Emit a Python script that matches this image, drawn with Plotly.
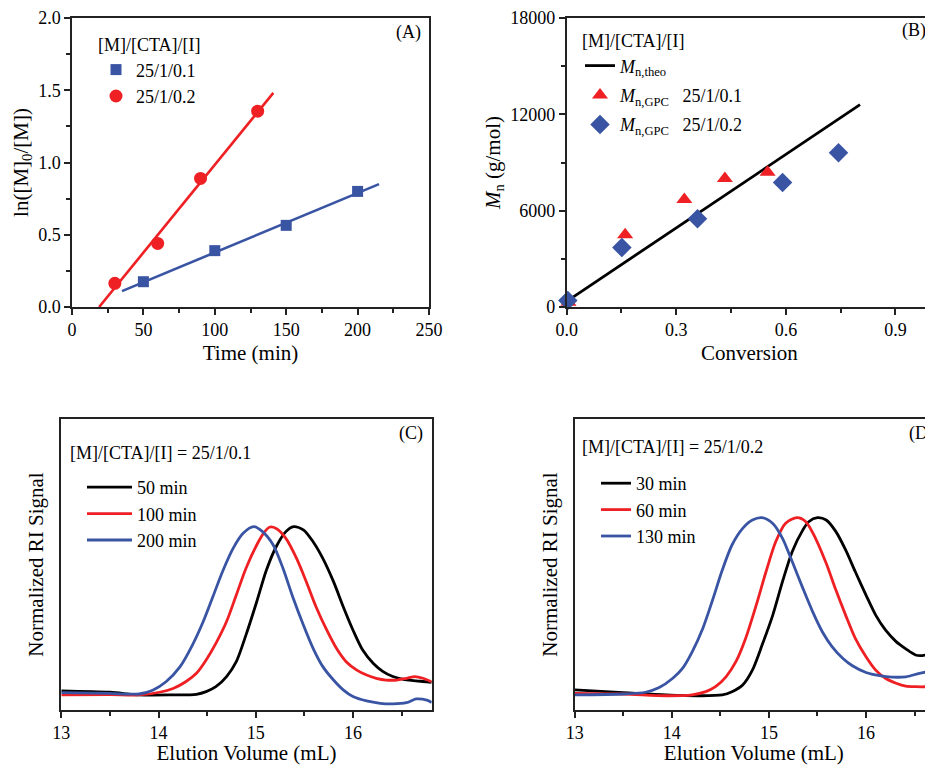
import plotly.graph_objects as go

SERIF = "Liberation Serif"
BLUE = "#3A54A4"
RED = "#EE2024"
AXC = "#222222"

# ---------------- Panel A: kinetics ----------------
time_01 = [50, 100, 150, 200]
ln_01 = [0.175, 0.39, 0.565, 0.80]
time_02 = [30, 60, 90, 130]
ln_02 = [0.164, 0.44, 0.89, 1.355]
fit01_x = [35, 215]
fit01_y = [0.11, 0.85]
fit02_x = [19, 141]
fit02_y = [0.0, 1.482]

# ---------------- Panel B: Mn vs conversion ----------------
conv_01 = [0.005, 0.16, 0.322, 0.433, 0.55]
mn_01 = [300, 4500, 6700, 8000, 8400]
conv_02 = [0.003, 0.151, 0.358, 0.591, 0.744]
mn_02 = [400, 3700, 5500, 7750, 9600]
theo_x = [0.003, 0.803]
theo_y = [400, 12600]

# ---------------- Panel C: GPC traces 25/1/0.1 ----------------
c50_x = [13.0, 13.5, 13.8, 14.15, 14.39, 14.49, 14.59, 14.70, 14.80, 14.90, 15.01, 15.11, 15.21,
         15.31, 15.39, 15.49, 15.59, 15.69, 15.80, 15.90, 16.00, 16.10, 16.21, 16.31, 16.41,
         16.52, 16.62, 16.76, 16.81]
c50_y = [0.066, 0.061, 0.052, 0.052, 0.054, 0.063, 0.080, 0.115, 0.166, 0.258, 0.372, 0.481, 0.561,
         0.613, 0.630, 0.619, 0.578, 0.521, 0.441, 0.355, 0.275, 0.206, 0.160, 0.132, 0.115,
         0.105, 0.101, 0.097, 0.095]
c100_x = [13.0, 13.5, 13.8, 14.01, 14.15, 14.28, 14.39, 14.49, 14.59, 14.70, 14.80, 14.90, 15.01,
          15.08, 15.14, 15.21, 15.31, 15.42, 15.52, 15.62, 15.73, 15.83, 15.93, 16.04, 16.14,
          16.24, 16.34, 16.45, 16.55, 16.64, 16.72, 16.81]
c100_y = [0.052, 0.053, 0.052, 0.061, 0.074, 0.097, 0.126, 0.172, 0.229, 0.304, 0.395, 0.487, 0.567,
          0.607, 0.628, 0.624, 0.590, 0.521, 0.441, 0.355, 0.275, 0.212, 0.166, 0.137, 0.120,
          0.109, 0.103, 0.103, 0.109, 0.115, 0.109, 0.097]
c200_x = [13.0, 13.5, 13.8, 13.94, 14.08, 14.22, 14.35, 14.46, 14.56, 14.66, 14.77, 14.87, 14.98,
          15.07, 15.18, 15.28, 15.38, 15.49, 15.59, 15.69, 15.80, 15.90, 16.00, 16.14, 16.28,
          16.41, 16.55, 16.65, 16.76, 16.81]
c200_y = [0.060, 0.057, 0.055, 0.068, 0.098, 0.148, 0.224, 0.304, 0.390, 0.477, 0.557, 0.607, 0.630,
          0.613, 0.567, 0.487, 0.389, 0.292, 0.212, 0.149, 0.103, 0.069, 0.046, 0.031, 0.023,
          0.021, 0.025, 0.038, 0.034, 0.026]

# ---------------- Panel D: GPC traces 25/1/0.2 ----------------
d30_x = [13.0, 13.5, 13.94, 14.28, 14.52, 14.62, 14.73, 14.83, 14.93, 15.04, 15.14, 15.24, 15.35,
         15.41, 15.50, 15.59, 15.69, 15.79, 15.89, 16.00, 16.10, 16.20, 16.31, 16.41, 16.51,
         16.58, 16.68]
d30_y = [0.069, 0.060, 0.052, 0.049, 0.052, 0.063, 0.086, 0.137, 0.223, 0.326, 0.441, 0.544, 0.619,
         0.647, 0.661, 0.653, 0.613, 0.550, 0.475, 0.395, 0.326, 0.275, 0.235, 0.210, 0.189,
         0.187, 0.195]
d60_x = [13.0, 13.5, 13.94, 14.21, 14.35, 14.45, 14.56, 14.66, 14.76, 14.87, 14.97, 15.07, 15.17,
         15.29, 15.38, 15.48, 15.59, 15.69, 15.79, 15.89, 16.00, 16.10, 16.20, 16.31, 16.41,
         16.51, 16.68]
d60_y = [0.057, 0.055, 0.049, 0.052, 0.063, 0.080, 0.115, 0.166, 0.246, 0.361, 0.475, 0.578, 0.641,
         0.661, 0.647, 0.590, 0.504, 0.412, 0.326, 0.246, 0.183, 0.137, 0.109, 0.092, 0.082,
         0.080, 0.080]
d130_x = [13.0, 13.5, 13.73, 13.87, 14.01, 14.11, 14.21, 14.32, 14.42, 14.52, 14.62, 14.73, 14.83,
          14.93, 15.04, 15.14, 15.24, 15.35, 15.45, 15.55, 15.65, 15.76, 15.86, 16.00, 16.14,
          16.27, 16.41, 16.55, 16.68]
d130_y = [0.052, 0.055, 0.061, 0.077, 0.109, 0.143, 0.200, 0.281, 0.378, 0.481, 0.567, 0.624, 0.653,
          0.661, 0.641, 0.590, 0.510, 0.418, 0.338, 0.269, 0.218, 0.178, 0.152, 0.129, 0.118,
          0.113, 0.114, 0.126, 0.134]

fig = go.Figure()

# Panel A
fig.add_trace(go.Scatter(x=fit01_x, y=fit01_y, mode="lines", line=dict(color=BLUE, width=2.6),
                         showlegend=False, xaxis="x", yaxis="y"))
fig.add_trace(go.Scatter(x=fit02_x, y=fit02_y, mode="lines", line=dict(color=RED, width=2.6),
                         showlegend=False, xaxis="x", yaxis="y"))
fig.add_trace(go.Scatter(x=time_01, y=ln_01, mode="markers", name="25/1/0.1",
                         marker=dict(symbol="square", size=11, color=BLUE),
                         xaxis="x", yaxis="y", legend="legend"))
fig.add_trace(go.Scatter(x=time_02, y=ln_02, mode="markers", name="25/1/0.2",
                         marker=dict(symbol="circle", size=13, color=RED),
                         xaxis="x", yaxis="y", legend="legend"))

# Panel B
fig.add_trace(go.Scatter(x=theo_x, y=theo_y, mode="lines", name="<i>M</i><sub>n,theo</sub>",
                         line=dict(color="black", width=2.8), xaxis="x2", yaxis="y2",
                         legend="legend2", legendgroup="b1"))
fig.add_trace(go.Scatter(x=conv_01, y=mn_01, mode="markers",
                         name="<i>M</i><sub>n,GPC</sub>&nbsp;&nbsp;&nbsp;25/1/0.1",
                         marker=dict(symbol="triangle-up", size=14, color=RED), cliponaxis=False,
                         xaxis="x2", yaxis="y2", legend="legend2", legendgroup="b2"))
fig.add_trace(go.Scatter(x=conv_02, y=mn_02, mode="markers",
                         name="<i>M</i><sub>n,GPC</sub>&nbsp;&nbsp;&nbsp;25/1/0.2",
                         marker=dict(symbol="diamond", size=15, color=BLUE), cliponaxis=False,
                         xaxis="x2", yaxis="y2", legend="legend2", legendgroup="b3"))

# Panel C
for xs, ys, col, nm in [(c50_x, c50_y, "black", "50 min"), (c100_x, c100_y, RED, "100 min"),
                        (c200_x, c200_y, BLUE, "200 min")]:
    fig.add_trace(go.Scatter(x=xs, y=ys, mode="lines", name=nm,
                             line=dict(color=col, width=2.8, shape="spline", smoothing=0.8),
                             xaxis="x3", yaxis="y3", legend="legend3"))

# Panel D
for xs, ys, col, nm in [(d30_x, d30_y, "black", "30 min"), (d60_x, d60_y, RED, "60 min"),
                        (d130_x, d130_y, BLUE, "130 min")]:
    fig.add_trace(go.Scatter(x=xs, y=ys, mode="lines", name=nm,
                             line=dict(color=col, width=2.8, shape="spline", smoothing=0.8),
                             xaxis="x4", yaxis="y4", legend="legend4"))

# the page body has an 8px margin, so the figure is 8px smaller and coordinates are shifted
OFF = 8
W, H = 933 - OFF, 765 - OFF


def px(x):
    return (x - OFF) / W


def py(y):
    return 1 - (y - OFF) / H


tickfont = dict(family=SERIF, size=18, color="black")
titlefont = dict(family=SERIF, size=21, color="black")


def axis(**kw):
    d = dict(showline=True, linecolor=AXC, linewidth=1.5, mirror=True, ticks="outside",
             ticklen=6, tickwidth=1.5, tickcolor=AXC, showgrid=False, zeroline=False,
             tickfont=tickfont, title_font=titlefont, automargin=False)
    d.update(kw)
    return d


minor = lambda dt: dict(ticks="outside", ticklen=4, tickwidth=1.5, tickcolor=AXC, dtick=dt, showgrid=False)

legfont = dict(family=SERIF, size=18, color="black")

fig.update_layout(
    width=W, height=H, margin=dict(l=0, r=0, t=0, b=0, autoexpand=False),
    paper_bgcolor="white", plot_bgcolor="white",
    font=dict(family=SERIF, color="black"),
    xaxis=axis(domain=[px(72), px(429)], range=[0, 250], dtick=50, minor=minor(25),
               anchor="y", title=dict(text="Time (min)", standoff=6)),
    yaxis=axis(domain=[py(307), py(18)], range=[0, 2.0], dtick=0.5, tickformat=".1f",
               minor=minor(0.25), anchor="x",
               title=dict(text="ln([M]<sub>0</sub>/[M])", standoff=4)),
    xaxis2=axis(domain=[px(566.7), px(932)], range=[0, 1.0], tick0=0, dtick=0.3, tickformat=".1f",
                minor=minor(0.15), anchor="y2", title=dict(text="Conversion", standoff=6)),
    yaxis2=axis(domain=[py(307), py(18)], range=[0, 18000], dtick=6000, tickformat="d",
                minor=minor(3000),
                anchor="x2", title=dict(text="<i>M</i><sub>n</sub> (g/mol)", standoff=4)),
    xaxis3=axis(domain=[px(61.3), px(431.7)], range=[13, 16.81], dtick=1, minor=minor(0.5),
                anchor="y3", title=dict(text="Elution Volume (mL)", standoff=8)),
    yaxis3=axis(domain=[py(710), py(419)], range=[0, 1], ticks="", showticklabels=False,
                anchor="x3", title=dict(text="Normalized RI Signal", standoff=10)),
    xaxis4=axis(domain=[px(574.7), 1.0], range=[13, 16.69], dtick=1, minor=minor(0.5),
                anchor="y4", title=dict(text="Elution Volume (mL)", standoff=8)),
    yaxis4=axis(domain=[py(710), py(419)], range=[0, 1], ticks="", showticklabels=False,
                mirror=False, anchor="x4", title=dict(text="Normalized RI Signal", standoff=10)),
    legend=dict(x=px(96), y=py(28), xanchor="left", yanchor="top", bgcolor="rgba(0,0,0,0)",
                font=legfont, title=dict(text="[M]/[CTA]/[I]", font=legfont)),
    legend2=dict(x=px(580), y=py(24), xanchor="left", yanchor="top", bgcolor="rgba(0,0,0,0)",
                 font=legfont, tracegroupgap=3,
                 title=dict(text="[M]/[CTA]/[I]", font=legfont)),
    legend3=dict(x=px(82), y=py(469), xanchor="left", yanchor="top", bgcolor="rgba(0,0,0,0)",
                 font=legfont, itemwidth=45),
    legend4=dict(x=px(596), y=py(465), xanchor="left", yanchor="top", bgcolor="rgba(0,0,0,0)",
                 font=legfont),
    annotations=[
        dict(text="[M]/[CTA]/[I] = 25/1/0.1", x=px(68), y=py(453), xref="paper", yref="paper",
             xanchor="left", yanchor="middle", showarrow=False, font=legfont),
        dict(text="[M]/[CTA]/[I] = 25/1/0.2", x=px(580), y=py(447), xref="paper", yref="paper",
             xanchor="left", yanchor="middle", showarrow=False, font=legfont),
        dict(text="(A)", x=px(423), y=py(32), xref="paper", yref="paper", xanchor="right",
             yanchor="middle", showarrow=False, font=legfont),
        dict(text="(B)", x=px(928), y=py(30), xref="paper", yref="paper", xanchor="right",
             yanchor="middle", showarrow=False, font=legfont),
        dict(text="(C)", x=px(425), y=py(433), xref="paper", yref="paper", xanchor="right",
             yanchor="middle", showarrow=False, font=legfont),
        dict(text="(D)", x=px(907), y=py(433), xref="paper", yref="paper", xanchor="left",
             yanchor="middle", showarrow=False, font=legfont),
    ],
)

fig.write_html("out.html")
